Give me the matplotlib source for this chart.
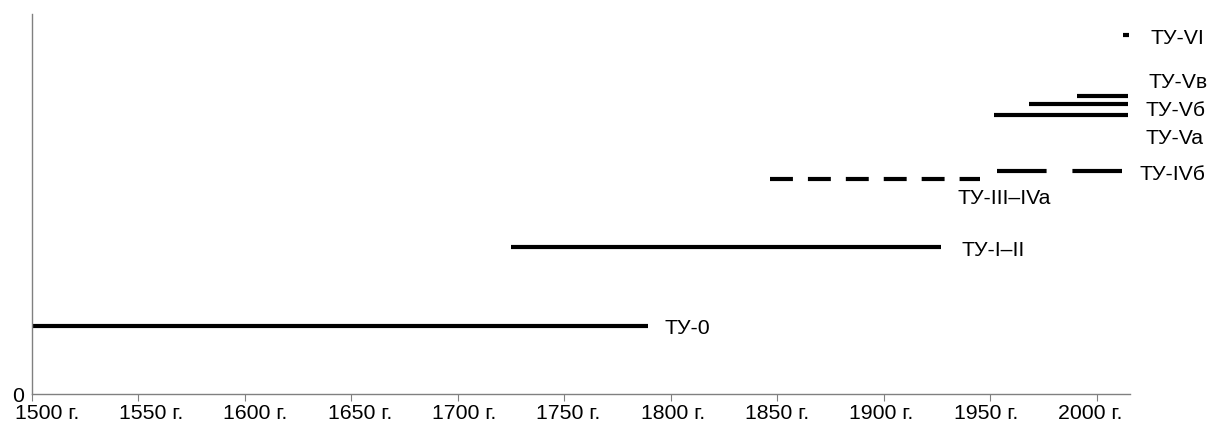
import matplotlib.pyplot as plt

plt.rcParams['font.family'] = ['Liberation Sans', 'DejaVu Sans']

# periods (start year, end year, level)
names = ['ТУ-0', 'ТУ-I–II', 'ТУ-III–IVa', 'ТУ-IVб', 'ТУ-Va', 'ТУ-Vб', 'ТУ-Vв', 'ТУ-VI']
starts = [1500, 1725, 1846.5, 1953, 1951.5, 1968, 1990.5, 2012]
ends = [1789, 1927, 1945, 2012, 2014.5, 2014.5, 2014.5, 2015]
levels = [68, 147, 215, 223, 279, 290, 298, 359]
styles = ['solid', 'solid', 'dash', 'longdash', 'solid', 'solid', 'solid', 'solid']

# label anchor (year, level)
lab_x = [1797, 1936.6, 1934.7, 2020, 2023, 2023, 2024, 2025]
lab_y = [66, 144, 196, 220, 257, 285, 312, 357]

ticks = [1500, 1550, 1600, 1650, 1700, 1750, 1800, 1850, 1900, 1950, 2000]
tick_labels = [f'{t} г.' for t in ticks]

fig = plt.figure(figsize=(12.09, 4.27), dpi=100)
ax = fig.add_axes([32 / 1209, 32 / 427, (1130 - 32) / 1209, (395 - 15) / 427])

for s, e, lv, st in zip(starts, ends, levels, styles):
    line, = ax.plot([s, e], [lv, lv], color='black', lw=3, solid_capstyle='butt',
                    dash_capstyle='butt', clip_on=False)
    if st == 'dash':
        line.set_dashes((5.5, 3.6))
    elif st == 'longdash':
        line.set_dashes((11.9, 6.2))

for n, x, y in zip(names, lab_x, lab_y):
    ax.text(x, y, n, fontsize=15.3, ha='left', va='center', clip_on=False)

ax.set_xlim(1500, 2015.5)
ax.set_ylim(0, 380)
ax.set_xticks(ticks)
ax.set_xticklabels([''] * len(ticks))
# category-style labels, spaced slightly tighter than the ticks
for i, lab in enumerate(tick_labels):
    px = 47 + i * 104.3
    ax.text((px - 32) / 1098, -19 / 380, lab, transform=ax.transAxes,
            fontsize=15.3, ha='center', va='center')
ax.set_yticks([0])
ax.set_yticklabels(['0'], fontsize=15.3)
ax.tick_params(axis='x', direction='out', length=5, color='#808080', pad=4)
ax.tick_params(axis='y', length=0, pad=6)
for sp in ['top', 'right']:
    ax.spines[sp].set_visible(False)
for sp in ['left', 'bottom']:
    ax.spines[sp].set_color('#808080')
    ax.spines[sp].set_linewidth(1)

fig.savefig('out.png', dpi=100)
